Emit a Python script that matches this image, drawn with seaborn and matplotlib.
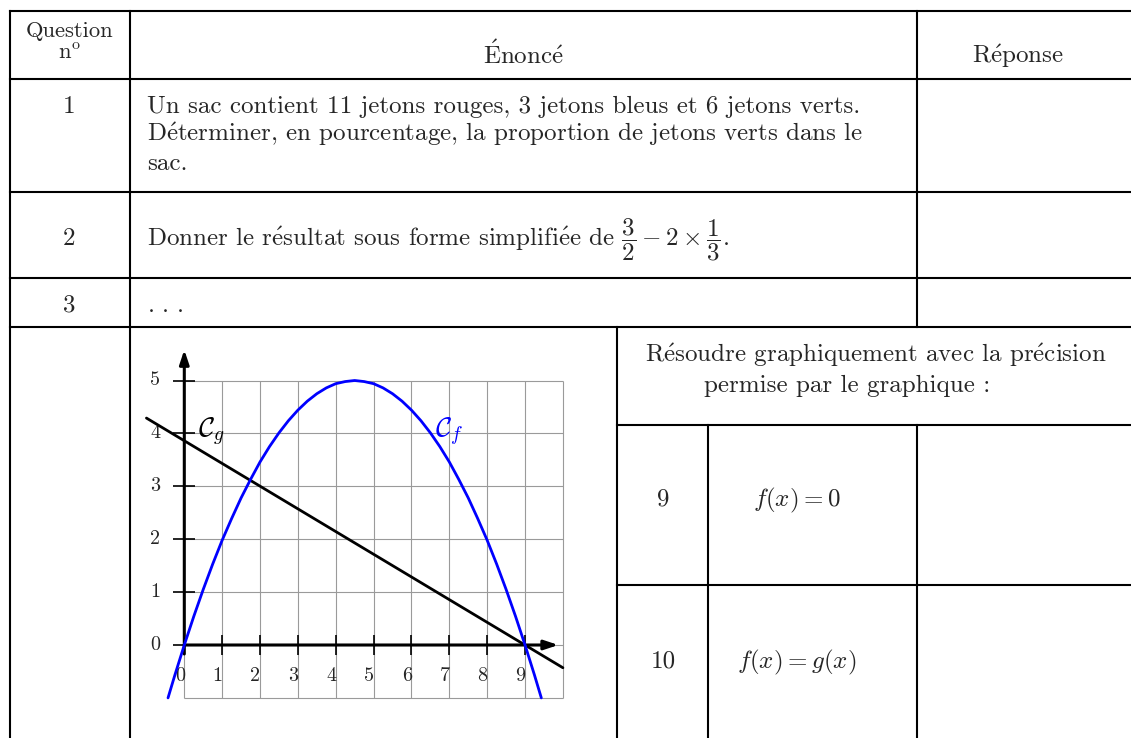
import matplotlib
matplotlib.use("Agg")
import matplotlib.pyplot as plt
import seaborn as sns

# ==========================================
# Contenu du tableau
# ==========================================
HEADER_QUESTION = ["Question", r"n$^{\mathrm{o}}$"]
HEADER_ENONCE = "Énoncé"
HEADER_REPONSE = "Réponse"
QUESTION_NUMS = ["1", "2", "3"]
Q1_LINES = [
    "Un sac contient 11 jetons rouges, 3 jetons bleus et 6 jetons verts.",
    "Déterminer, en pourcentage, la proportion de jetons verts dans le",
    "sac.",
]
Q2_TEXT = r"Donner le résultat sous forme simplifiée de $\dfrac{3}{2}-2\times\dfrac{1}{3}$."
Q3_TEXT = r"$.\,.\,.$"
CONSIGNE_LINES = ["Résoudre graphiquement avec la précision", "permise par le graphique :"]
SUB_NUMS = ["9", "10"]
SUB_EQS = [r"$f(x)=0$", r"$f(x)=g(x)$"]

# ==========================================
# Courbes
# ==========================================
F_X = [-0.43, -0.25, 0, 0.25, 0.5, 0.75, 1, 1.25, 1.5, 1.75, 2, 2.25, 2.5, 2.75, 3,
       3.25, 3.5, 3.75, 4, 4.25, 4.5, 4.75, 5, 5.25, 5.5, 5.75, 6, 6.25, 6.5, 6.75,
       7, 7.25, 7.5, 7.75, 8, 8.25, 8.5, 8.75, 9, 9.25, 9.43]
F_Y = [-1.0, -0.57, 0, 0.54, 1.05, 1.53, 1.98, 2.39, 2.78, 3.13, 3.46, 3.75, 4.01, 4.24, 4.44,
       4.61, 4.75, 4.86, 4.94, 4.98, 5.0, 4.98, 4.94, 4.86, 4.75, 4.61, 4.44, 4.24, 4.01, 3.75,
       3.46, 3.13, 2.78, 2.39, 1.98, 1.53, 1.05, 0.54, 0, -0.57, -1.0]
G_X = [-1.0, 10.0]
G_Y = [4.29, -0.43]
X_TICKS = [0, 1, 2, 3, 4, 5, 6, 7, 8, 9]
Y_TICKS = [0, 1, 2, 3, 4, 5]
GRID_X = [0, 1, 2, 3, 4, 5, 6, 7, 8, 9, 10]
GRID_Y = [-1, 0, 1, 2, 3, 4, 5]

# ==========================================
# Mise en page (pixels)
# ==========================================
W, H = 1131, 738
FS_MAIN = 18
FS_SMALL = 16.3
FS_TICK = 14.5


def tex(s):
    """cmr10 n'a pas les lettres accentuées : on passe par \\acute de mathtext"""
    return s.replace('é', r'$\acute{\mathrm{e}}$').replace('É', r'$\acute{\mathrm{E}}$')


sns.set_theme(style="white")
plt.rcParams['font.family'] = ['cmr10', 'DejaVu Serif']
plt.rcParams['mathtext.fontset'] = 'cm'
plt.rcParams['axes.formatter.use_mathtext'] = True
plt.rcParams['axes.unicode_minus'] = False

fig = plt.figure(figsize=(W / 100, H / 100), dpi=100)
bg = fig.add_axes([0, 0, 1, 1])
bg.set_xlim(0, W)
bg.set_ylim(H, 0)
bg.axis('off')

k = dict(color='black', lw=1.5, solid_capstyle='projecting')
# lignes horizontales
for y in [11, 79, 192, 278, 327]:
    bg.plot([10, W], [y, y], **k)
bg.plot([617, W], [425, 425], **k)
bg.plot([617, W], [585, 585], **k)
# lignes verticales
bg.plot([10, 10], [11, H], **k)
bg.plot([129.5, 129.5], [11, H], **k)
bg.plot([917, 917], [11, 327], **k)
bg.plot([617, 617], [327, H], **k)
bg.plot([708, 708], [425, H], **k)
bg.plot([917, 917], [425, H], **k)

# en-tête
bg.text(69.5, 37, HEADER_QUESTION[0], ha='center', va='baseline', fontsize=FS_SMALL)
bg.text(69.5, 59, HEADER_QUESTION[1], ha='center', va='baseline', fontsize=FS_SMALL)
bg.text(523, 63.5, tex(HEADER_ENONCE), ha='center', va='baseline', fontsize=FS_MAIN)
bg.text(1017.5, 63.5, tex(HEADER_REPONSE), ha='center', va='baseline', fontsize=FS_MAIN)

# questions
for num, yb in zip(QUESTION_NUMS, [113, 245, 312]):
    bg.text(69.5, yb, num, ha='center', va='baseline', fontsize=FS_MAIN)
for line, yb in zip(Q1_LINES, [113, 141.5, 169.5]):
    bg.text(147, yb, tex(line), ha='left', va='baseline', fontsize=FS_MAIN)
bg.text(147, 245, tex(Q2_TEXT), ha='left', va='baseline', fontsize=FS_MAIN)
bg.text(147, 312, Q3_TEXT, ha='left', va='baseline', fontsize=FS_MAIN)

bg.text(876, 362, tex(CONSIGNE_LINES[0]), ha='center', va='baseline', fontsize=FS_MAIN)
bg.text(847.5, 392, tex(CONSIGNE_LINES[1]), ha='center', va='baseline', fontsize=FS_MAIN)
for num, eq, yb in zip(SUB_NUMS, SUB_EQS, [506, 668]):
    bg.text(663, yb, num, ha='center', va='baseline', fontsize=FS_MAIN)
    bg.text(797, yb, eq, ha='center', va='baseline', fontsize=FS_MAIN)

# ==========================================
# Graphique
# ==========================================
x0, ux = 184.3, 37.86
y0, uy = 645.0, 52.9
xl, xr = -1.3, 10.3
yb_, yt = -1.3, 5.8
left_px, right_px = x0 + xl * ux, x0 + xr * ux
top_px, bot_px = y0 - yt * uy, y0 - yb_ * uy
ax = fig.add_axes([left_px / W, 1 - bot_px / H, (right_px - left_px) / W, (bot_px - top_px) / H])
ax.set_xlim(xl, xr)
ax.set_ylim(yb_, yt)
ax.axis('off')
ax.patch.set_alpha(0)

ax.vlines(GRID_X, -1, 5, color='#9a9a9a', lw=0.8, zorder=1)
ax.hlines(GRID_Y, 0, 10, color='#9a9a9a', lw=0.8, zorder=1)
ax.hlines(Y_TICKS, -0.29, 0.28, color='black', lw=1.2, zorder=2)
ax.vlines(X_TICKS, -0.19, 0.19, color='black', lw=1.2, zorder=2)

arrow = dict(arrowstyle='-|>,head_length=0.6,head_width=0.2', lw=2.2, color='black',
             shrinkA=0, shrinkB=0, mutation_scale=14)
ax.annotate('', xy=(0, 5.58), xytext=(0, -0.17), arrowprops=arrow, zorder=3)
ax.annotate('', xy=(9.88, 0), xytext=(0, 0), arrowprops=arrow, zorder=3)

sns.lineplot(x=G_X, y=G_Y, color='black', lw=2.0, ax=ax, zorder=4)
sns.lineplot(x=F_X, y=F_Y, color='#0000ff', lw=2.0, ax=ax, zorder=5, sort=False)

for t in Y_TICKS:
    ax.text(-0.77, t, str(t), ha='center', va='center', fontsize=FS_TICK)
for t in X_TICKS:
    ax.text(t - 0.12, -0.58, str(t), ha='center', va='center', fontsize=FS_TICK)

ax.text(0.72, 4.02, r'$\mathcal{C}_g$', ha='center', va='center', fontsize=20, color='black')
ax.text(7.0, 4.02, r'$\mathcal{C}_f$', ha='center', va='center', fontsize=20, color='#0000ff')

fig.savefig('out.png', dpi=100)
